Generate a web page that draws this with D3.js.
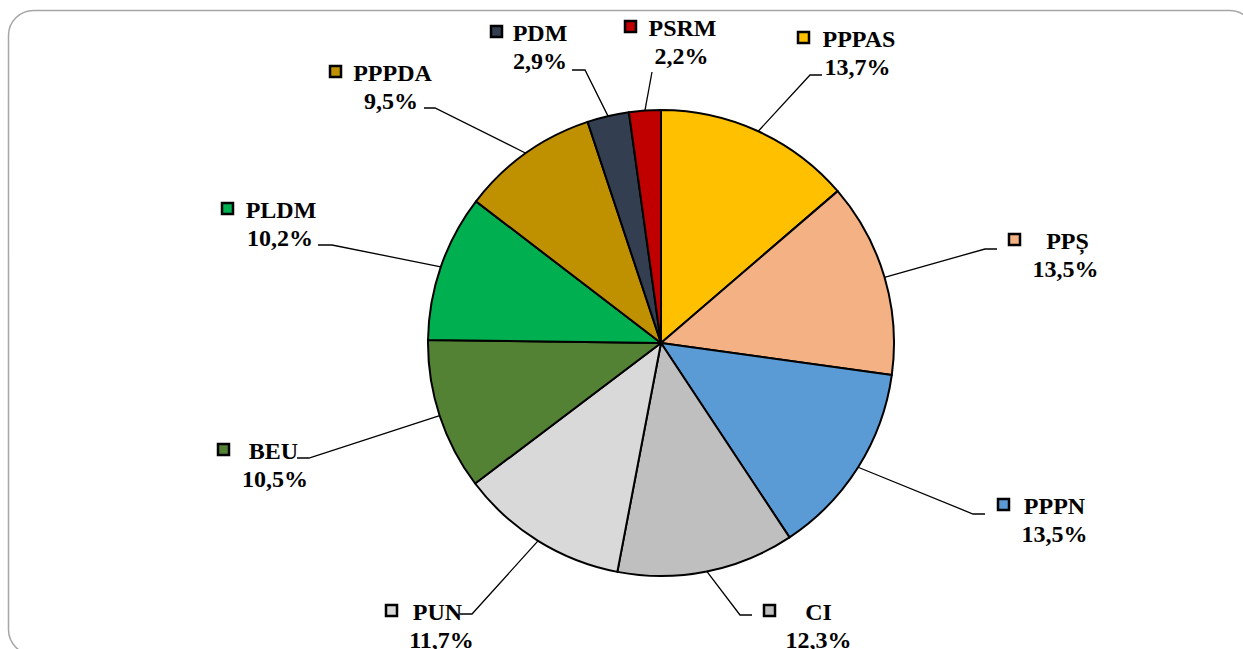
<!DOCTYPE html>
<html>
<head>
<meta charset="utf-8">
<script src="https://cdn.jsdelivr.net/npm/d3@7"></script>
<style>
  html, body { margin: 0; padding: 0; background: #ffffff; }
  svg { display: block; }
</style>
</head>
<body>
<svg id="chart" width="1243" height="649"></svg>
<script>
// ---- data ----
const categories = ["PPPAS", "PPȘ", "PPPN", "CI", "PUN", "BEU", "PLDM", "PPPDA", "PDM", "PSRM"];
const values = [13.7, 13.5, 13.5, 12.3, 11.7, 10.5, 10.2, 9.5, 2.9, 2.2];
const percentLabels = ["13,7%", "13,5%", "13,5%", "12,3%", "11,7%", "10,5%", "10,2%", "9,5%", "2,9%", "2,2%"];
const colors = ["#FFC000", "#F4B183", "#5B9BD5", "#BFBFBF", "#D9D9D9", "#548235", "#00B050", "#BF9000", "#333F50", "#C00000"];

// ---- label layout (positions of the label boxes, not data) ----
// [name center x, name baseline y, percent center x, marker left x, leader elbow x, elbow y, leader end x]
const labelLayout = [
  [859, 47, 857.5, 797, 810, 75, 822],
  [1067.5, 249, 1065.5, 1008, 985, 249, 997],
  [1054.5, 514, 1054.5, 997, 973, 514, 985],
  [818.5, 620, 818.5, 763, 740, 615, 752],
  [437.5, 620, 441.5, 385, 472, 614, 460],
  [273.5, 459, 275, 217, 309, 458, 297],
  [281, 218, 280, 221, 332, 245, 318],
  [392.5, 81, 391, 329, 435, 108, 424],
  [540, 41, 540, 490, 585, 70, 572],
  [682.5, 36, 681.5, 624, 652, 72, 652]
];

const svg = d3.select("#chart");
const W = 1243, H = 649;

// frame
svg.append("rect")
  .attr("x", 8.5).attr("y", 10.5)
  .attr("width", 1246).attr("height", 644)
  .attr("rx", 25).attr("ry", 25)
  .attr("fill", "#ffffff")
  .attr("stroke", "#a6a6a6")
  .attr("stroke-width", 1.5);

const cx = 661, cy = 343, R = 233;

const pie = d3.pie().sort(null).value(d => d)(values);
const arc = d3.arc().innerRadius(0).outerRadius(R);
const edgeArc = d3.arc().innerRadius(R).outerRadius(R);

const g = svg.append("g").attr("transform", `translate(${cx},${cy})`);

g.selectAll("path.slice")
  .data(pie)
  .join("path")
  .attr("class", "slice")
  .attr("d", arc)
  .attr("fill", (d, i) => colors[i])
  .attr("stroke", "#000")
  .attr("stroke-width", 2)
  .attr("stroke-linejoin", "round");

// leader lines
const leaders = svg.append("g");
pie.forEach((d, i) => {
  const mid = (d.startAngle + d.endAngle) / 2;
  const ex = cx + R * Math.sin(mid);
  const ey = cy - R * Math.cos(mid);
  const L = labelLayout[i];
  leaders.append("polyline")
    .attr("points", `${ex},${ey} ${L[4]},${L[5]} ${L[6]},${L[5]}`)
    .attr("fill", "none")
    .attr("stroke", "#000")
    .attr("stroke-width", 1.3);
});

// labels
const labels = svg.append("g")
  .attr("font-family", "'Liberation Serif', 'Times New Roman', serif")
  .attr("font-weight", "bold")
  .attr("font-size", 24)
  .attr("fill", "#000");

categories.forEach((c, i) => {
  const L = labelLayout[i];
  labels.append("rect")
    .attr("x", L[3] + 1).attr("y", L[1] - 15)
    .attr("width", 11).attr("height", 11)
    .attr("fill", colors[i])
    .attr("stroke", "#000")
    .attr("stroke-width", 2.5);
  labels.append("text")
    .attr("x", L[0]).attr("y", L[1])
    .attr("text-anchor", "middle")
    .text(c);
  labels.append("text")
    .attr("x", L[2]).attr("y", L[1] + 28)
    .attr("text-anchor", "middle")
    .text(percentLabels[i]);
});
</script>
</body>
</html>
